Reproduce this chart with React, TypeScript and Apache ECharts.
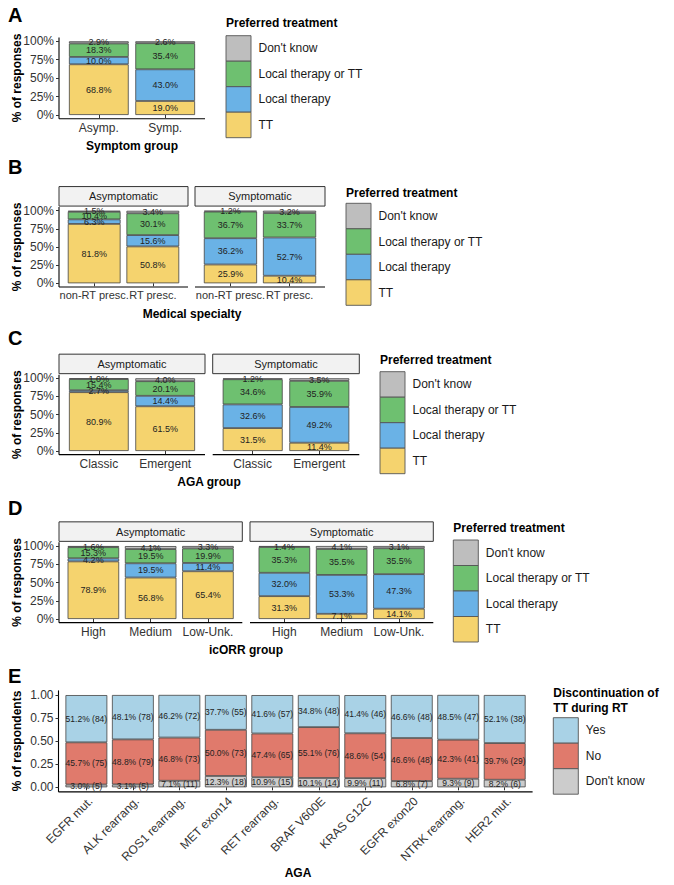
import React, { useEffect, useRef } from "react";
import * as echarts from "echarts";

// ---------------- data ----------------
const TREATMENT_LEVELS = ["TT", "Local therapy", "Local therapy or TT", "Don't know"]; // stack order bottom -> top
const FACETS = ["Asymptomatic", "Symptomatic"];

const A_CATS = ["Asymp.", "Symp."];
const A_TT = [68.8, 19.0];
const A_LOCAL = [10.0, 43.0];
const A_LOCAL_OR_TT = [18.3, 35.4];
const A_DONT_KNOW = [2.9, 2.6];

const B_CATS = ["non-RT presc.", "RT presc."];
const B_ASYMP_TT = [81.8, 50.8];
const B_ASYMP_LOCAL = [6.3, 15.6];
const B_ASYMP_LOCAL_OR_TT = [10.4, 30.1];
const B_ASYMP_DONT_KNOW = [1.5, 3.4];
const B_SYMP_TT = [25.9, 10.4];
const B_SYMP_LOCAL = [36.2, 52.7];
const B_SYMP_LOCAL_OR_TT = [36.7, 33.7];
const B_SYMP_DONT_KNOW = [1.2, 3.2];

const C_CATS = ["Classic", "Emergent"];
const C_ASYMP_TT = [80.9, 61.5];
const C_ASYMP_LOCAL = [2.7, 14.4];
const C_ASYMP_LOCAL_OR_TT = [15.4, 20.1];
const C_ASYMP_DONT_KNOW = [1.0, 4.0];
const C_SYMP_TT = [31.5, 11.4];
const C_SYMP_LOCAL = [32.6, 49.2];
const C_SYMP_LOCAL_OR_TT = [34.6, 35.9];
const C_SYMP_DONT_KNOW = [1.2, 3.5];

const D_CATS = ["High", "Medium", "Low-Unk."];
const D_ASYMP_TT = [78.9, 56.8, 65.4];
const D_ASYMP_LOCAL = [4.2, 19.5, 11.4];
const D_ASYMP_LOCAL_OR_TT = [15.3, 19.5, 19.9];
const D_ASYMP_DONT_KNOW = [1.6, 4.1, 3.3];
const D_SYMP_TT = [31.3, 7.1, 14.1];
const D_SYMP_LOCAL = [32.0, 53.3, 47.3];
const D_SYMP_LOCAL_OR_TT = [35.3, 35.5, 35.5];
const D_SYMP_DONT_KNOW = [1.4, 4.1, 3.1];

const E_CATS = [
  "EGFR mut.",
  "ALK rearrang.",
  "ROS1 rearrang.",
  "MET exon14",
  "RET rearrang.",
  "BRAF V600E",
  "KRAS G12C",
  "EGFR exon20",
  "NTRK rearrang.",
  "HER2 mut.",
];
const E_LEVELS = ["Don't know", "No", "Yes"]; // stack order bottom -> top
const E_DONT_KNOW_PCT = [3.0, 3.1, 7.1, 12.3, 10.9, 10.1, 9.9, 6.8, 9.3, 8.2];
const E_DONT_KNOW_N = [5, 5, 11, 18, 15, 14, 11, 7, 9, 6];
const E_NO_PCT = [45.7, 48.8, 46.8, 50.0, 47.4, 55.1, 48.6, 46.6, 42.3, 39.7];
const E_NO_N = [75, 79, 73, 73, 65, 76, 54, 48, 41, 29];
const E_YES_PCT = [51.2, 48.1, 46.2, 37.7, 41.6, 34.8, 41.4, 46.6, 48.5, 52.1];
const E_YES_N = [84, 78, 72, 55, 57, 48, 46, 48, 47, 38];

// ---------------- styles ----------------
const TREAT_COLORS = ["#F5D36E", "#6AB2E6", "#6EC070", "#BEBEBE"];
const E_COLORS = ["#CCCCCC", "#E07A6C", "#A9D2E6"];
const FONT = '"Liberation Sans", Arial, Helvetica, sans-serif';
const AXIS_TEXT = "#333333";
const KEY_W = 25;
const KEY_H = 25.5;

type Facet = {
  L: number;
  R: number;
  y100: number;
  y0: number;
  cats: string[];
  layers: number[][];
  colors: string[];
  counts?: number[][];
  showY: boolean;
  strip?: string;
  yFmt: (v: number) => string;
  rotateX?: boolean;
  labelSize: number;
  xLabelSize?: number;
};

function addFacet(o: any, f: Facet) {
  const gi = o.grid.length;
  const n = f.cats.length;
  const u = (f.R - f.L) / (n + 0.2);
  const h = f.y0 - f.y100;
  const top = f.y100 - 0.05 * h;
  const bottom = f.y0 + 0.05 * h;
  o.grid.push({
    left: f.L + 0.1 * u,
    top: f.y100,
    width: n * u,
    height: h,
    containLabel: false,
    outerBoundsMode: "none",
  });
  const baseLabel = { interval: 0, fontSize: f.xLabelSize || 12, color: AXIS_TEXT, fontFamily: FONT };
  o.xAxis.push({
    type: "category",
    gridIndex: gi,
    data: f.cats,
    position: "bottom",
    offset: 0.05 * h,
    axisLine: { show: false },
    axisTick: { show: true, alignWithLabel: true, length: 3, lineStyle: { color: AXIS_TEXT, width: 1 } },
    axisLabel: f.rotateX
      ? { ...baseLabel, rotate: 45, align: "right", verticalAlign: "top", margin: 3 }
      : { ...baseLabel, margin: 3 },
    splitLine: { show: false },
  });
  o.yAxis.push({
    type: "value",
    gridIndex: gi,
    min: 0,
    max: 100,
    interval: 25,
    offset: 0.1 * u,
    show: f.showY,
    axisLine: { show: false },
    axisTick: { show: true, length: 3, lineStyle: { color: AXIS_TEXT, width: 1 } },
    axisLabel: { formatter: f.yFmt, margin: 5, fontSize: 12, color: AXIS_TEXT, fontFamily: FONT },
    splitLine: { show: false },
  });
  f.layers.forEach((vals, k) => {
    const counts = f.counts ? f.counts[k] : null;
    o.series.push({
      type: "bar",
      xAxisIndex: gi,
      yAxisIndex: gi,
      stack: "stack" + gi,
      barWidth: "90%",
      data: vals,
      itemStyle: { color: f.colors[k], borderColor: "#444444", borderWidth: 0.8 },
      label: {
        show: true,
        position: "inside",
        fontSize: f.labelSize,
        color: "#222222",
        fontFamily: FONT,
        formatter: (p: any) =>
          counts
            ? `${Number(p.value).toFixed(1)}% (${counts[p.dataIndex]})`
            : `${Number(p.value).toFixed(1)}%`,
      },
      emphasis: { disabled: true },
    });
  });
  // axis lines (panel extent, ggplot style)
  o.graphic.push({
    type: "line",
    shape: { x1: f.L, y1: bottom, x2: f.R, y2: bottom },
    style: { stroke: "#000", lineWidth: 1.1 },
  });
  if (f.showY) {
    o.graphic.push({
      type: "line",
      shape: { x1: f.L, y1: top, x2: f.L, y2: bottom },
      style: { stroke: "#000", lineWidth: 1.1 },
    });
  }
  if (f.strip) {
    o.graphic.push({
      type: "rect",
      shape: { x: f.L, y: top - 20.5, width: f.R - f.L, height: 19.5 },
      style: { fill: "#F2F2F2", stroke: "#333333", lineWidth: 1 },
    });
    o.graphic.push({
      type: "text",
      x: (f.L + f.R) / 2,
      y: top - 20.5 + 9.75,
      style: {
        text: f.strip,
        fill: "#1A1A1A",
        fontSize: 11,
        fontFamily: FONT,
        align: "center",
        verticalAlign: "middle",
      },
    });
  }
}

function text(o: any, s: string, x: number, y: number, opts: any = {}) {
  o.graphic.push({
    type: "text",
    x,
    y,
    rotation: opts.rotation || 0,
    style: {
      text: s,
      fill: opts.fill || "#000",
      fontSize: opts.fontSize || 12,
      fontWeight: opts.fontWeight || "normal",
      fontFamily: FONT,
      align: opts.align || "center",
      verticalAlign: "middle",
    },
  });
}

function addLegend(o: any, x: number, titleY: number, keysTop: number, title: string[], labels: string[], colors: string[]) {
  title.forEach((t, i) =>
    text(o, t, x, titleY + i * 14.5, { fontWeight: "bold", align: "left", fontSize: 12 })
  );
  labels.forEach((lab, i) => {
    o.graphic.push({
      type: "rect",
      shape: { x, y: keysTop + i * KEY_H, width: KEY_W, height: KEY_H },
      style: { fill: colors[i], stroke: "#555555", lineWidth: 0.9 },
    });
    text(o, lab, x + 32.5, keysTop + i * KEY_H + KEY_H / 2, { align: "left", fill: "#1A1A1A" });
  });
}

const pctFmt = (v: number) => `${v}%`;
const fracFmt = (v: number) => (v / 100).toFixed(2);

function buildOption() {
  const o: any = {
    animation: false,
    textStyle: { fontFamily: FONT },
    grid: [],
    xAxis: [],
    yAxis: [],
    series: [],
    graphic: [],
  };
  const legendLabels = [...TREATMENT_LEVELS].reverse();
  const legendColors = [...TREAT_COLORS].reverse();
  const common = { colors: TREAT_COLORS, yFmt: pctFmt, labelSize: 9 };

  // ---- A ----
  addFacet(o, { ...common, L: 59, R: 205, y100: 41.3, y0: 115, cats: A_CATS, showY: true,
    layers: [A_TT, A_LOCAL, A_LOCAL_OR_TT, A_DONT_KNOW] });
  text(o, "A", 8, 14.5, { fontSize: 20, fontWeight: "bold", align: "left" });
  text(o, "% of responses", 16.5, 78, { fontWeight: "bold", rotation: Math.PI / 2 });
  text(o, "Symptom group", 132, 146, { fontWeight: "bold" });
  addLegend(o, 226, 23.3, 35.7, ["Preferred treatment"], legendLabels, legendColors);

  // ---- B ----
  addFacet(o, { ...common, L: 59, R: 188, y100: 210.7, y0: 283.3, cats: B_CATS, showY: true, strip: FACETS[0],
    xLabelSize: 11, layers: [B_ASYMP_TT, B_ASYMP_LOCAL, B_ASYMP_LOCAL_OR_TT, B_ASYMP_DONT_KNOW] });
  addFacet(o, { ...common, L: 195, R: 325, y100: 210.7, y0: 283.3, cats: B_CATS, showY: false, strip: FACETS[1],
    xLabelSize: 11, layers: [B_SYMP_TT, B_SYMP_LOCAL, B_SYMP_LOCAL_OR_TT, B_SYMP_DONT_KNOW] });
  text(o, "B", 8, 167, { fontSize: 20, fontWeight: "bold", align: "left" });
  text(o, "% of responses", 16.5, 247, { fontWeight: "bold", rotation: Math.PI / 2 });
  text(o, "Medical specialty", 192, 313.5, { fontWeight: "bold" });
  addLegend(o, 346, 192.7, 203.3, ["Preferred treatment"], legendLabels, legendColors);

  // ---- C ----
  addFacet(o, { ...common, L: 59, R: 205, y100: 378.3, y0: 451, cats: C_CATS, showY: true, strip: FACETS[0],
    layers: [C_ASYMP_TT, C_ASYMP_LOCAL, C_ASYMP_LOCAL_OR_TT, C_ASYMP_DONT_KNOW] });
  addFacet(o, { ...common, L: 212.7, R: 359.3, y100: 378.3, y0: 451, cats: C_CATS, showY: false, strip: FACETS[1],
    layers: [C_SYMP_TT, C_SYMP_LOCAL, C_SYMP_LOCAL_OR_TT, C_SYMP_DONT_KNOW] });
  text(o, "C", 8, 338, { fontSize: 20, fontWeight: "bold", align: "left" });
  text(o, "% of responses", 16.5, 414.7, { fontWeight: "bold", rotation: Math.PI / 2 });
  text(o, "AGA group", 209, 481.7, { fontWeight: "bold" });
  addLegend(o, 380, 360, 371.7, ["Preferred treatment"], legendLabels, legendColors);

  // ---- D ----
  addFacet(o, { ...common, L: 59, R: 242.3, y100: 546, y0: 619, cats: D_CATS, showY: true, strip: FACETS[0],
    layers: [D_ASYMP_TT, D_ASYMP_LOCAL, D_ASYMP_LOCAL_OR_TT, D_ASYMP_DONT_KNOW] });
  addFacet(o, { ...common, L: 250, R: 433.3, y100: 546, y0: 619, cats: D_CATS, showY: false, strip: FACETS[1],
    layers: [D_SYMP_TT, D_SYMP_LOCAL, D_SYMP_LOCAL_OR_TT, D_SYMP_DONT_KNOW] });
  text(o, "D", 8, 508, { fontSize: 20, fontWeight: "bold", align: "left" });
  text(o, "% of responses", 16.5, 582.5, { fontWeight: "bold", rotation: Math.PI / 2 });
  text(o, "icORR group", 246, 650, { fontWeight: "bold" });
  addLegend(o, 453.3, 528.3, 540, ["Preferred treatment"], legendLabels, legendColors);

  // ---- E ----
  addFacet(o, {
    L: 58.5, R: 532.6, y100: 695, y0: 787.3, cats: E_CATS, showY: true, rotateX: true,
    layers: [E_DONT_KNOW_PCT, E_NO_PCT, E_YES_PCT],
    counts: [E_DONT_KNOW_N, E_NO_N, E_YES_N],
    colors: E_COLORS, yFmt: fracFmt, labelSize: 8.5,
  });
  text(o, "E", 8, 675.5, { fontSize: 20, fontWeight: "bold", align: "left" });
  text(o, "% of respondents", 16.5, 741, { fontWeight: "bold", rotation: Math.PI / 2 });
  text(o, "AGA", 298, 873, { fontWeight: "bold" });
  addLegend(o, 553.3, 693, 717.7, ["Discontinuation of", "TT during RT"], [...E_LEVELS].reverse(), [...E_COLORS].reverse());

  return o;
}

export default function App() {
  const ref = useRef<HTMLDivElement>(null);
  useEffect(() => {
    if (!ref.current) return;
    const chart = echarts.init(ref.current, null, { renderer: "svg" });
    chart.setOption(buildOption());
    return () => chart.dispose();
  }, []);
  return (
    <div
      ref={ref}
      style={{ position: "absolute", left: 0, top: 0, width: 674, height: 885, background: "#fff" }}
    />
  );
}
